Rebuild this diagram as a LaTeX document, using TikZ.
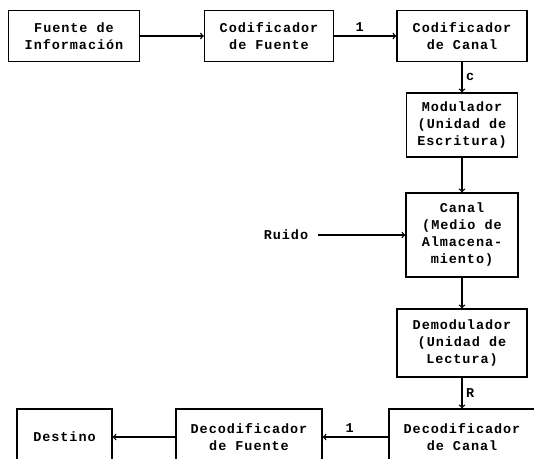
\documentclass[tikz,border=0pt]{standalone}
\usepackage{fontspec}
\setmonofont[LetterSpace=7]{Liberation Mono}
\usepackage{tikz}
\usetikzlibrary{calc}

\begin{document}
\begin{tikzpicture}[
    x=1pt, y=-1pt,
    block/.style={draw, line width=1.4pt, align=center, inner sep=0pt,
    minimum height=51pt},
    pile/.style={line width=1.4pt, ->, >=to},
    every node/.style={color=black, font=\ttfamily\bfseries\fontsize{13.5}{17}\selectfont}
    ]
    \useasboundingbox (0,0) rectangle (534,458);
    \clip (0,0) rectangle (534,458);
    % Top row
    \node[block, minimum width=131pt] (fuente) at (74,36) {Fuente de\\Información};
    \node[block, minimum width=129pt] (codfte) at (269,36) {Codificador\\de Fuente};
    \node[block, minimum width=130pt] (codcan) at (462,36) {Codificador\\de Canal};
    % Right column
    \node[block, minimum width=111pt, minimum height=64pt] (modul) at (462,125)
        {Modulador\\(Unidad de\\Escritura)};
    \node[block, minimum width=112pt, minimum height=84pt] (canal) at (462,235)
        {Canal\\(Medio de\\Almacena-\\miento)};
    \node[block, minimum width=130pt, minimum height=68pt] (demod) at (462,343)
        {Demodulador\\(Unidad de\\Lectura)};
    \node (ruido) at (286,235) {Ruido};
    % Bottom row (cut by the page edge)
    \node[block, minimum width=146pt, minimum height=56pt] (decan) at (462,437)
        {Decodificador\\de Canal};
    \node[block, minimum width=146pt, minimum height=56pt] (decfte) at (249,437)
        {Decodificador\\de Fuente};
    \node[block, minimum width=95pt, minimum height=56pt] (destino) at (64.5,437) {Destino};
    % Arrows
    \draw[pile] (fuente) -- (codfte);
    \draw[pile] (codfte) -- node[above, pos=0.41] {1} (codcan);
    \draw[pile] (codcan) -- node[right] {c} (modul);
    \draw[pile] (modul) -- (canal);
    \draw[pile, shorten <=6pt] (ruido) -- (canal);
    \draw[pile] (canal) -- (demod);
    \draw[pile] (demod) -- node[right] {R} (decan);
    \draw[pile] (decan) -- node[above, pos=0.59] {1} (decfte);
    \draw[pile] (decfte) -- (destino);
\end{tikzpicture}
\end{document}
